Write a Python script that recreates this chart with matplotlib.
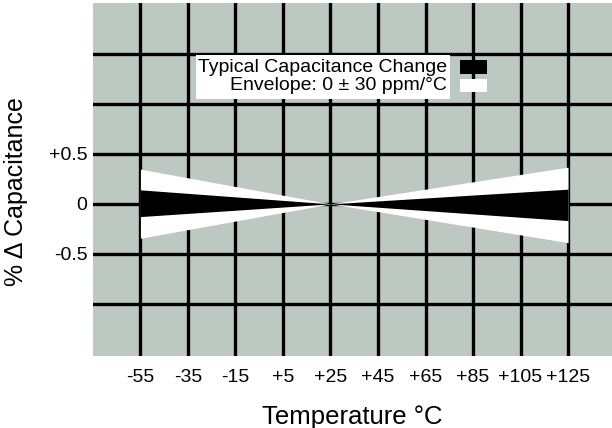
import matplotlib.pyplot as plt
import numpy as np

plt.rcParams['font.family'] = ['Liberation Sans', 'DejaVu Sans']

# temperature points of the wedge (deg C)
temps = [-55, 25, 125]
# typical capacitance change band (%)
typ_hi = [0.14, 0.0, 0.147]
typ_lo = [-0.127, 0.0, -0.167]
# envelope 0 +/- 30 ppm/C (%)
env_hi = [0.347, 0.0, 0.367]
env_lo = [-0.343, 0.0, -0.387]

xticks = [-55, -35, -15, 5, 25, 45, 65, 85, 105, 125]
xlabels = ['-55', '-35', '-15', '+5', '+25', '+45', '+65', '+85', '+105', '+125']
ygrid = [-1.0, -0.5, 0.0, 0.5, 1.0, 1.5]
ylabels = {0.5: '+0.5', 0.0: '0', -0.5: '-0.5'}

fig = plt.figure(figsize=(6.12, 4.28), dpi=100)
ax = fig.add_axes([0.1518, 0.1682, 0.8482, 0.8255])
ax.set_facecolor('#bec8c3')
ax.set_xlim(-75, 143.5)
ax.set_ylim(-1.52, 2.01)

for x in xticks:
    ax.axvline(x, color='black', lw=2.4, zorder=1)
for y in ygrid:
    ax.axhline(y, color='black', lw=2.4, zorder=1)

ax.fill_between(temps, env_lo, env_hi, color='white', lw=0, zorder=2)
ax.fill_between(temps, typ_lo, typ_hi, color='black', lw=0, zorder=3)

ax.set_xticks(xticks)
ax.set_xticklabels(xlabels, fontsize=14)
ax.set_yticks(list(ylabels.keys()))
ax.set_yticklabels(list(ylabels.values()), fontsize=14)
ax.tick_params(axis='x', length=0, pad=9)
ax.tick_params(axis='y', length=0, pad=4)
for s in ax.spines.values():
    s.set_visible(False)

ax.set_xlabel('Temperature °C', fontsize=18.5, labelpad=14)
ax.set_ylabel('% Δ Capacitance', fontsize=18)
ax.yaxis.set_label_coords(-0.125, 0.465)

# legend box
ax.add_patch(plt.Rectangle((-31.6, 1.047), 107.0, 0.443, color='white', lw=0, zorder=4))
ax.add_patch(plt.Rectangle((79.6, 1.297), 11.2, 0.143, color='black', lw=0, zorder=4))
ax.add_patch(plt.Rectangle((79.6, 1.113), 11.2, 0.137, color='white', lw=0, zorder=4))
ax.text(74.1, 1.36, 'Typical Capacitance Change', ha='right', va='center', fontsize=14, zorder=5)
ax.text(74.1, 1.18, 'Envelope: 0 ± 30 ppm/°C', ha='right', va='center', fontsize=14, zorder=5)

fig.savefig('out.png', dpi=100)
